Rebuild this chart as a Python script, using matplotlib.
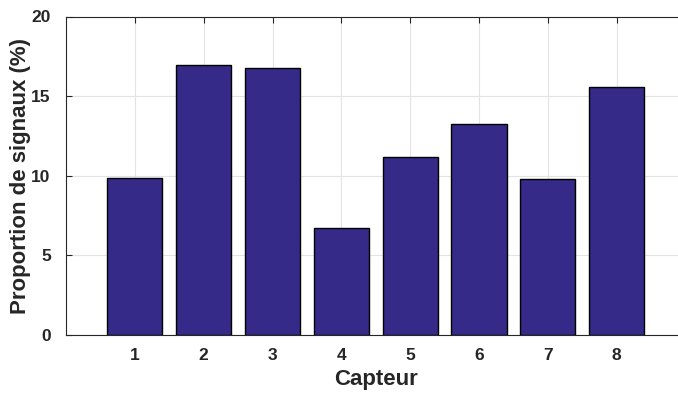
import matplotlib.pyplot as plt

# Data
capteurs = [1, 2, 3, 4, 5, 6, 7, 8]
proportions = [9.87, 16.95, 16.76, 6.72, 11.19, 13.26, 9.77, 15.55]

plt.rcParams['font.family'] = ['Liberation Sans', 'DejaVu Sans']
plt.rcParams['font.weight'] = 'bold'

fig = plt.figure(figsize=(6.78, 3.97), dpi=100)
ax = fig.add_axes([66 / 678, 62 / 397, 619.5 / 678, 318.5 / 397])

ax.bar(capteurs, proportions, width=0.8, color='#352a87', edgecolor='black',
       linewidth=1.0, zorder=3)

ax.set_xlim(0, 9)
ax.set_ylim(0, 20)
ax.set_xticks(capteurs)
ax.set_yticks([0, 5, 10, 15, 20])
ax.grid(True, color='#e3e3e3', linewidth=0.8, zorder=0)

for side in ['left', 'bottom', 'top']:
    ax.spines[side].set_color('#262626')
    ax.spines[side].set_linewidth(0.8)
ax.spines['right'].set_visible(False)

ax.tick_params(axis='both', direction='in', length=4, width=0.8, color='#262626',
               labelsize=12.5, labelcolor='#262626', top=True)
ax.tick_params(axis='x', pad=9)
ax.tick_params(axis='y', pad=11)
for lab in ax.get_xticklabels() + ax.get_yticklabels():
    lab.set_fontweight('bold')

ax.set_xlabel('Capteur', fontsize=16, fontweight='bold', color='#262626', labelpad=5)
ax.set_ylabel('Proportion de signaux (%)', fontsize=16, fontweight='bold',
              color='#262626')
ax.yaxis.set_label_coords(-0.057, 0.5)

fig.savefig('out.png', dpi=100)
